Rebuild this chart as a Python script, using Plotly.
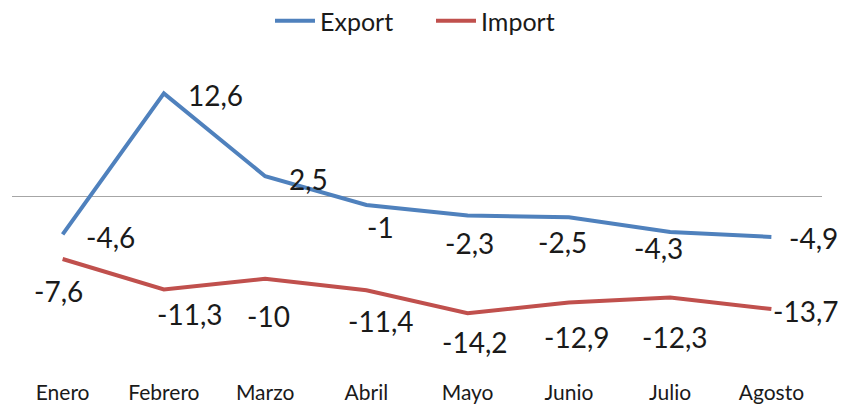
import plotly.graph_objects as go

months = ["Enero", "Febrero", "Marzo", "Abril", "Mayo", "Junio", "Julio", "Agosto"]
export_vals = [-4.6, 12.6, 2.5, -1, -2.3, -2.5, -4.3, -4.9]
import_vals = [-7.6, -11.3, -10, -11.4, -14.2, -12.9, -12.3, -13.7]

# label placement (pixel offsets from each point): (xanchor, xshift, yshift)
export_label_pos = [("left", 21, -3), ("left", 22, -2), ("left", 22, -3), ("center", 14, -22),
                    ("center", 2, -27), ("center", -6, -25), ("center", -12, -16), ("left", 16, -1)]
import_label_pos = [("center", -4, -32), ("center", 26, -25), ("center", 3, -37), ("center", 14, -31),
                    ("center", 7, -29), ("center", 8, -34), ("center", 4, -39), ("left", 0, -2)]

FONT = "Lato, 'Open Sans', sans-serif"
BLUE = "#4F81BD"
RED = "#C0504D"

def fmt(v):
    s = f"{v:g}"
    return s.replace(".", ",")

fig = go.Figure()
fig.add_trace(go.Scatter(x=months, y=export_vals, mode="lines", name="Export",
                         line=dict(color=BLUE, width=4)))
fig.add_trace(go.Scatter(x=months, y=import_vals, mode="lines", name="Import",
                         line=dict(color=RED, width=4)))

for vals, pos in ((export_vals, export_label_pos), (import_vals, import_label_pos)):
    for m, v, (xa, dx, dy) in zip(months, vals, pos):
        fig.add_annotation(x=m, y=v, text=fmt(v), showarrow=False,
                           xanchor=xa, yanchor="middle", xshift=dx, yshift=dy,
                           font=dict(family=FONT, size=28, color="#1a1a1a"))

fig.update_layout(
    width=842, height=404,
    margin=dict(l=12, r=20, t=40, b=40, autoexpand=False),
    paper_bgcolor="white", plot_bgcolor="white",
    showlegend=True,
    legend=dict(orientation="h", x=(270 - 12) / 810, xanchor="left", y=(364 - 21) / 324,
                yanchor="middle",
                font=dict(family=FONT, size=25, color="#1a1a1a"),
                itemwidth=40, entrywidth=106, entrywidthmode="pixels",
                bgcolor="rgba(0,0,0,0)"),
    xaxis=dict(type="category", range=[-0.5, 7.5], showgrid=False, showline=False, ticks="",
               automargin=False, ticklabelstandoff=14,
               tickfont=dict(family=FONT, size=21, color="#1a1a1a"), fixedrange=True),
    yaxis=dict(range=[-20.4, 19.11], showgrid=False, showticklabels=False, ticks="",
               automargin=False, fixedrange=True,
               zeroline=True, zerolinecolor="#A6A6A6", zerolinewidth=1, showline=False),
)

fig.write_html("out.html", config={"displayModeBar": False},
               post_script="document.body.style.margin='0';document.body.style.overflow='hidden';")
